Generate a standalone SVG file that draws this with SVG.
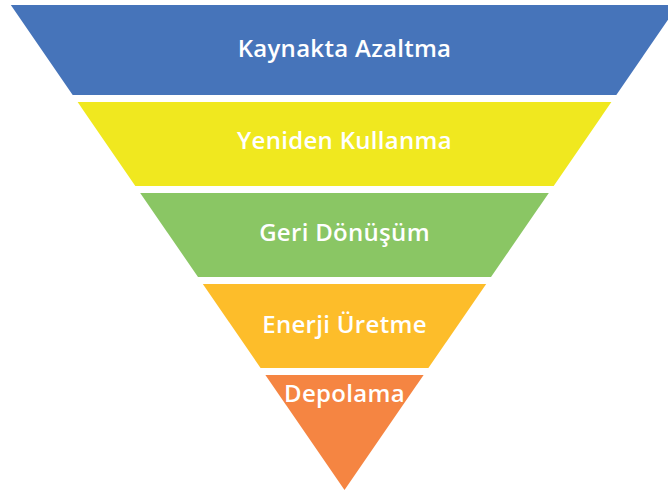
<svg xmlns="http://www.w3.org/2000/svg" width="668" height="492" viewBox="0 0 668 492">
<style>
.lbl{font-family:"Open Sans","Noto Sans","Liberation Sans",sans-serif;font-size:24px;font-weight:600;letter-spacing:0.3px;fill:#ffffff;text-anchor:middle}
</style>
<rect width="668" height="492" fill="#ffffff"/>
<g id="kaynakta-azaltma">
<polygon points="10.8,5 678.2,5 616.3,95 72.7,95" fill="#4674BA"/>
<text class="lbl" x="344.5" y="57">Kaynakta Azaltma</text>
</g>
<g id="yeniden-kullanma">
<polygon points="77.6,102 611.4,102 553.7,186 135.3,186" fill="#F0E81F"/>
<text class="lbl" x="344.5" y="149">Yeniden Kullanma</text>
</g>
<g id="geri-donusum">
<polygon points="140.2,193 548.8,193 491,277 198,277" fill="#8AC664"/>
<text class="lbl" x="344.5" y="241">Geri Dönüşüm</text>
</g>
<g id="enerji-uretme">
<polygon points="202.8,284 486.2,284 428.4,368 260.6,368" fill="#FDBD2A"/>
<text class="lbl" x="344.5" y="333">Enerji Üretme</text>
</g>
<g id="depolama">
<polygon points="265.4,375 423.6,375 344.5,490" fill="#F58542"/>
<text class="lbl" x="344.5" y="402">Depolama</text>
</g>
</svg>
